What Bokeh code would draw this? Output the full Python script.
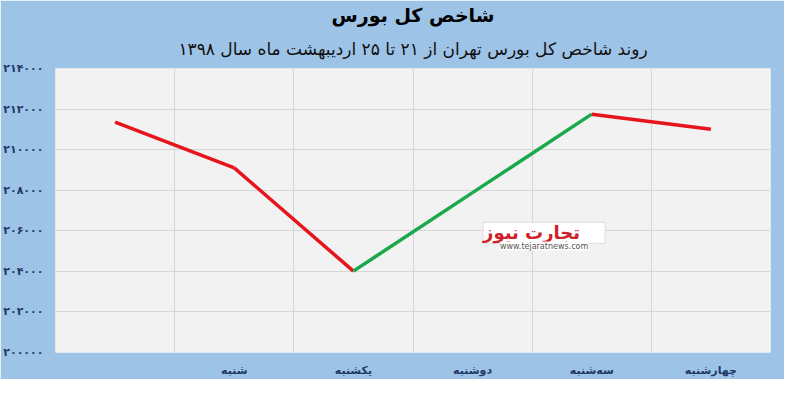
from bokeh.plotting import figure
from bokeh.models import FixedTicker, ColumnDataSource, Label, Title
from bokeh.embed import file_html
from bokeh.resources import INLINE

days = ["", "شنبه", "یکشنبه", "دوشنبه", "سه‌شنبه", "چهارشنبه"]
values = [211360, 209100, 204010, 207880, 211750, 211010]
y_ticks = [200000, 202000, 204000, 206000, 208000, 210000, 212000, 214000]

title_text = "شاخص کل بورس"
subtitle_text = "روند شاخص کل بورس تهران از ۲۱ تا ۲۵ اردیبهشت ماه سال ۱۳۹۸"

BG = "#9DC3E6"
FONT = "DejaVu Sans"

def fa_digits(n):
    return str(n).translate(str.maketrans("0123456789", "۰۱۲۳۴۵۶۷۸۹"))

xs = list(range(len(days)))
seg = ColumnDataSource(dict(
    x0=xs[:-1], x1=xs[1:], y0=values[:-1], y1=values[1:],
    c=["#E8141B" if b < a else "#19A84A" for a, b in zip(values[:-1], values[1:])],
))

p = figure(width=784, height=379, output_backend="svg", toolbar_location=None,
           x_range=(-0.5, len(days) - 0.5), y_range=(y_ticks[0], y_ticks[-1]),
           min_border_left=47, min_border_right=14, min_border_top=6, min_border_bottom=0)
p.background_fill_color = "#F2F2F2"
p.border_fill_color = BG
p.outline_line_color = None

p.add_layout(Title(text=subtitle_text, text_font=FONT, text_font_size="17px",
                   text_font_style="normal", text_color="#111111", align="center",
                   standoff=20), "above")
p.add_layout(Title(text=title_text, text_font=FONT, text_font_size="19px",
                   text_font_style="bold", text_color="#000000", align="center",
                   standoff=2), "above")

p.segment("x0", "y0", "x1", "y1", source=seg, line_color="c", line_width=3.5)

p.yaxis.ticker = FixedTicker(ticks=y_ticks)
p.yaxis.major_label_overrides = {t: fa_digits(t) for t in y_ticks}
p.xaxis.ticker = FixedTicker(ticks=xs[1:])
p.xaxis.major_label_overrides = {i: days[i] for i in xs[1:]}
for ax in (p.xaxis, p.yaxis):
    ax.axis_line_color = None
    ax.major_tick_line_color = None
    ax.minor_tick_line_color = None
    ax.major_label_text_font = FONT
    ax.major_label_text_font_style = "bold"
    ax.major_label_text_font_size = "11px"
    ax.major_label_text_color = "#1F3864"
p.yaxis.major_label_standoff = 6
p.xaxis.major_label_standoff = 5

p.ygrid.ticker = FixedTicker(ticks=y_ticks)
p.ygrid.grid_line_color = "#D6D6D6"
p.xgrid.ticker = FixedTicker(ticks=[i + 0.5 for i in xs[:-1]])
p.xgrid.grid_line_color = "#D6D6D6"

# watermark
p.add_layout(Label(x=3.6, y=205900, text="  تجارت نیوز  ", text_font=FONT, text_font_size="18px",
                   text_font_style="bold", text_color="#D0202A", text_align="center",
                   text_baseline="middle", background_fill_color="white",
                   background_fill_alpha=0.95, border_line_color="#DDDDDD"))
p.add_layout(Label(x=3.6, y=205250, text="www.tejaratnews.com", text_font=FONT,
                   text_font_size="8px", text_color="#555555", text_align="center",
                   text_baseline="middle", background_fill_color="white",
                   background_fill_alpha=0.95))

open("out.html", "w").write(file_html(p, INLINE))
